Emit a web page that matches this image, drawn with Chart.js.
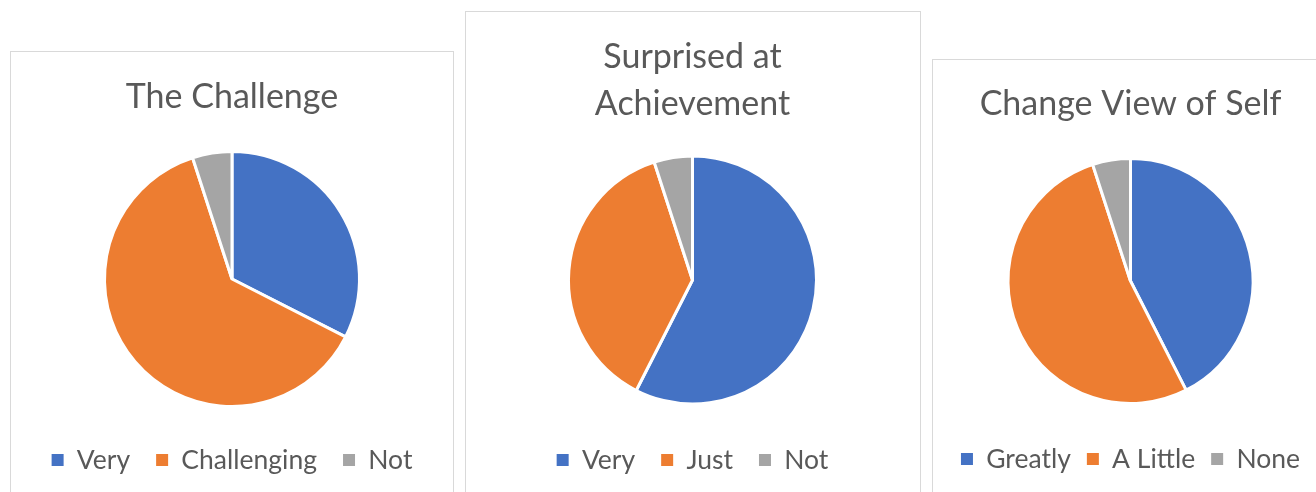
<!DOCTYPE html>
<html>
<head>
<meta charset="utf-8">
<script src="https://cdn.jsdelivr.net/npm/chart.js@4"></script>
<style>
  html, body { margin:0; padding:0; width:1316px; height:492px; overflow:hidden; background:#fff; }
  .panel { position:absolute; border:1px solid #d9d9d9; box-sizing:border-box; background:#fff; }
  .cv { position:absolute; }
</style>
</head>
<body>
<div class="panel" style="left:10px; top:51px; width:444px; height:460px;"></div>
<div class="panel" style="left:465px; top:11px; width:456px; height:500px;"></div>
<div class="panel" style="left:932px; top:59px; width:420px; height:460px;"></div>
<div class="cv" style="left:11px; top:52px; width:442px; height:431.25px;"><canvas id="c1"></canvas></div>
<div class="cv" style="left:466px; top:12px; width:453px; height:471.25px;"><canvas id="c2"></canvas></div>
<div class="cv" style="left:880px; top:60px; width:501px; height:422.25px;"><canvas id="c3"></canvas></div>
<script>
// ---- data ----
const titles1 = "The Challenge";
const labels1 = ["Very", "Challenging", "Not"];
const values1 = [13, 25, 2];

const titles2 = ["Surprised at", "Achievement"];
const labels2 = ["Very", "Just", "Not"];
const values2 = [23, 15, 2];

const titles3 = "Change View of Self";
const labels3 = ["Greatly", "A Little", "None"];
const values3 = [17, 21, 2];

const colors = ["#4472C4", "#ED7D31", "#A5A5A5"];
const textColor = "#595959";
const FONT = "Lato";

function makePie(id, title, labels, values, opt) {
  const ctx = document.getElementById(id);
  return new Chart(ctx, {
    type: 'pie',
    data: {
      labels: labels,
      datasets: [{
        data: values,
        backgroundColor: colors,
        borderColor: '#ffffff',
        borderWidth: 3
      }]
    },
    options: {
      responsive: true,
      maintainAspectRatio: false,
      animation: false,
      radius: opt.radius,
      layout: { padding: 0 },
      plugins: {
        tooltip: { enabled: false },
        title: {
          display: true,
          text: title,
          color: textColor,
          font: { family: FONT, size: 34, weight: 'normal', lineHeight: opt.titleLH },
          padding: { top: opt.titlePT, bottom: opt.titlePB }
        },
        legend: {
          display: true,
          position: 'bottom',
          labels: {
            color: textColor,
            font: { family: FONT, size: 26.5 },
            boxWidth: 12,
            boxHeight: 12,
            padding: opt.legendPad,
            generateLabels: (chart) => Chart.overrides.pie.plugins.legend.labels.generateLabels(chart).map(l => Object.assign(l, { lineWidth: 0 }))
          }
        }
      }
    }
  });
}

makePie('c1', titles1, labels1, values1, { radius: 127.5, titleLH: 1.2, titlePT: 24.6, titlePB: 19.85, legendPad: 26 });
makePie('c2', titles2, labels2, values2, { radius: 124, titleLH: 1.37, titlePT: 21.7, titlePB: 12.35, legendPad: 26 });
makePie('c3', titles3, labels3, values3, { radius: 122.5, titleLH: 1.2, titlePT: 23.6, titlePB: 7.85, legendPad: 16 });
</script>
</body>
</html>
